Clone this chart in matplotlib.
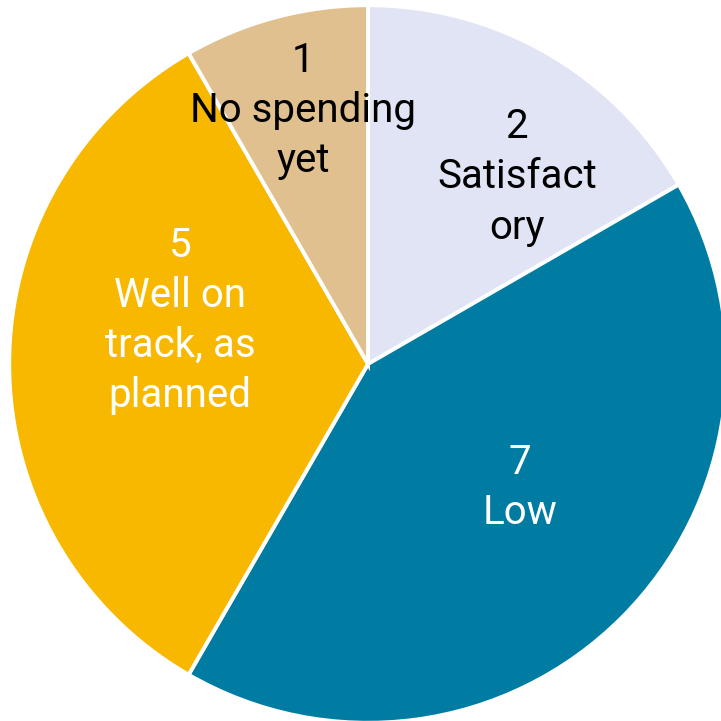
import matplotlib
matplotlib.use("Agg")
import matplotlib.pyplot as plt

categories = ["Satisfactory", "Low", "Well on track, as planned", "No spending yet"]
counts = [2, 7, 5, 1]
shares = [2, 5, 4, 1]
label_texts = ["2\nSatisfact\nory", "7\nLow", "5\nWell on\ntrack, as\nplanned", "1\nNo spending\nyet"]
colors = ["#E1E4F5", "#007CA3", "#F9B800", "#E0C08F"]
text_colors = ["black", "white", "white", "black"]
label_pos = [(0.417, 0.524), (0.426, -0.345), (-0.527, 0.122), (-0.182, 0.711)]

fig = plt.figure(figsize=(7.21, 7.21), dpi=100)
ax = fig.add_axes([0, 0, 1, 1])
ax.pie(shares, colors=colors, startangle=90, counterclock=False, radius=1.005,
       wedgeprops=dict(edgecolor="white", linewidth=2.8))
ax.set_aspect("auto")
ax.set_xlim(-368 / 357, 353 / 357)
ax.set_ylim(-357 / 357, 364 / 357)
ax.axis("off")

for txt, c, (x, y) in zip(label_texts, text_colors, label_pos):
    ax.text(x, y, txt, ha="center", va="center", color=c, fontsize=29,
            family=["Roboto", "DejaVu Sans"], linespacing=1.36)

fig.savefig("out.png", dpi=100)
